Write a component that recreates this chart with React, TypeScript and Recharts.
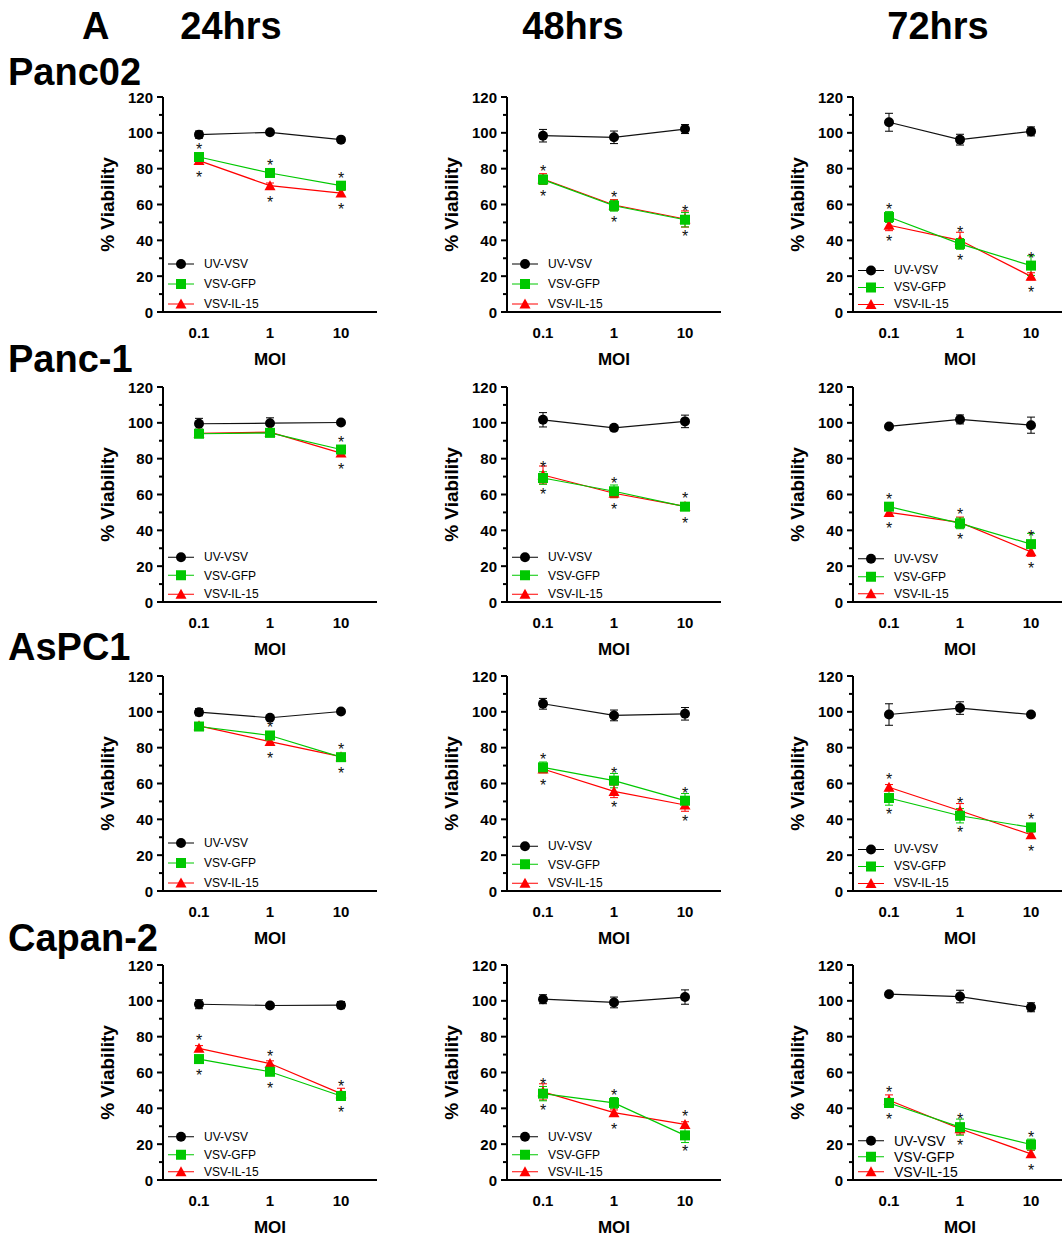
import { ErrorBar, Label, LabelList, Legend, Line, LineChart, XAxis, YAxis } from 'recharts'

const FONT = 'Arial, "Liberation Sans", sans-serif'

const moi = ['0.1', '1', '10']
const timepoints = ['24hrs', '48hrs', '72hrs']
const cellLines = ['Panc02', 'Panc-1', 'AsPC1', 'Capan-2']
const yTicks = [0, 10, 20, 30, 40, 50, 60, 70, 80, 90, 100, 110, 120]

// % viability, [cell line][timepoint][MOI]
const uvVsv = [
  [[99, 100.3, 96.2], [98.4, 97.5, 102.1], [105.9, 96.2, 100.8]],
  [[99.5, 99.8, 100.2], [101.7, 97.2, 100.8], [98, 101.9, 98.7]],
  [[99.8, 96.7, 100.2], [104.5, 98, 98.9], [98.5, 102.1, 98.5]],
  [[98.1, 97.4, 97.6], [100.9, 99.1, 102.1], [103.7, 102.4, 96.4]],
]
const uvVsvSd = [
  [[2, 1, 1], [3.5, 3.5, 2.5], [5, 3, 2.5]],
  [[3, 3, 1], [4, 1, 3.5], [1, 2.5, 4.5]],
  [[2, 1, 1], [3, 3, 3.5], [6, 3.5, 1]],
  [[2.5, 1, 2], [2.5, 3, 4], [1, 3.5, 2.5]],
]
const vsvGfp = [
  [[86.5, 77.6, 70.5], [73.9, 59.3, 51.5], [53, 38, 25.9]],
  [[93.9, 94.4, 85.1], [69.2, 61.8, 53.2], [53.2, 43.9, 32.3]],
  [[91.8, 86.8, 74.7], [69, 61.6, 50.4], [51.9, 42, 35.5]],
  [[67.5, 60.4, 46.9], [48.2, 43, 24.9], [43, 29.5, 19.8]],
]
const vsvGfpSd = [
  [[1.5, 1.5, 1.5], [2.5, 3, 4], [3, 3, 5.5]],
  [[1.5, 1, 1.5], [3.5, 3.5, 2], [2, 3, 6]],
  [[1.5, 2, 1.5], [3, 4, 4], [4, 4, 2]],
  [[1.5, 1.5, 2.5], [4, 3, 4], [2.5, 4.5, 3]],
]
const vsvIl15 = [
  [[84.5, 70.5, 66.4], [74.2, 59.7, 51.9], [48.4, 40, 19.9]],
  [[94.2, 94.8, 83.1], [70.9, 60.7, 53.4], [50, 44.4, 28]],
  [[92.2, 83.4, 75], [68.1, 55.6, 48], [57.9, 44.8, 31.4]],
  [[73.5, 65, 48.2], [49.2, 37.6, 31], [44.5, 28.6, 14.6]],
]
const vsvIl15Sd = [
  [[1.5, 1.5, 1.5], [3, 3, 4.5], [3, 4.5, 2]],
  [[1, 1, 1.5], [5, 2.5, 2], [2, 3, 2.5]],
  [[1, 1.5, 1], [2, 3.5, 3.5], [1.5, 4, 1.5]],
  [[1.5, 1.5, 3], [4.5, 1.5, 1.5], [3, 3, 2]],
]
// asterisks vs UV-VSV at each MOI
const significant = [
  [[1, 1, 1], [1, 1, 1], [1, 1, 1]],
  [[0, 0, 1], [1, 1, 1], [1, 1, 1]],
  [[0, 1, 1], [1, 1, 1], [1, 1, 1]],
  [[1, 1, 1], [1, 1, 1], [1, 1, 1]],
]

const legendItems = [
  { name: 'UV-VSV', color: '#000', shape: 'circle' },
  { name: 'VSV-GFP', color: '#00c800', shape: 'square' },
  { name: 'VSV-IL-15', color: '#ff0000', shape: 'triangle' },
]

// layout
const axisX = [163, 507, 853]
const plotTop = [97, 387, 676, 965]
const legendGap = [[20, 20, 17], [18.5, 18.5, 17.5], [20, 18.5, 17], [17.5, 17.5, 15.5]]
const legendFont = [[12, 12, 12], [12, 12, 12], [12, 12, 12], [12, 12, 14]]

function Marker({ shape, color, cx, cy }: any) {
  if (shape === 'circle') return <circle cx={cx} cy={cy} r={5} fill={color} />
  if (shape === 'square') return <rect x={cx - 5} y={cy - 5} width={10} height={10} fill={color} />
  return <polygon points={`${cx},${cy - 5.5} ${cx + 5.5},${cy + 4.5} ${cx - 5.5},${cy + 4.5}`} fill={color} />
}

const dotFor = (shape: string, color: string) => (p: any) => (
  <g key={`${shape}-${p.index}`}>
    <Marker shape={shape} color={color} cx={p.cx} cy={p.cy} />
  </g>
)

const YTick = ({ x, y, payload }: any) => {
  const major = payload.value % 20 === 0
  return (
    <g>
      <line x1={x - (major ? 6 : 4)} x2={x} y1={y} y2={y} stroke="#000" strokeWidth={2} />
      {major && (
        <text x={x - 10} y={y + 5.5} textAnchor="end" fontSize={15} fontWeight="bold" fontFamily={FONT} fill="#000">
          {payload.value}
        </text>
      )}
    </g>
  )
}

const XTick = ({ x, y, payload }: any) => (
  <text x={x} y={y + 26} textAnchor="middle" fontSize={15} fontWeight="bold" fontFamily={FONT} fill="#000">
    {payload.value}
  </text>
)

const ViabilityLabel = ({ viewBox }: any) => {
  const bx = viewBox.x + viewBox.width - 49
  const cy = viewBox.y + viewBox.height / 2
  return (
    <text x={bx} y={cy} transform={`rotate(-90 ${bx} ${cy})`} textAnchor="middle" fontSize={19} fontWeight="bold" fontFamily={FONT} fill="#000">
      % Viability
    </text>
  )
}

const MoiLabel = ({ viewBox }: any) => (
  <text x={viewBox.x + viewBox.width / 2} y={viewBox.y + 53} textAnchor="middle" fontSize={17} fontWeight="bold" fontFamily={FONT} fill="#000">
    MOI
  </text>
)

const starContent = (sig: number[], own: number[], other: number[], wins: boolean) => (p: any) => {
  const i = p.index
  if (!sig[i]) return null
  const above = wins ? own[i] >= other[i] : own[i] > other[i]
  const cy = above ? p.y - 11 : p.y + 13
  return (
    <text key={`star-${i}`} x={p.x} y={cy + 9} textAnchor="middle" fontSize={16} fontFamily={FONT} fill="#111">
      *
    </text>
  )
}

function PanelLegend({ gap, fontSize }: { gap: number; fontSize: number }) {
  return (
    <div style={{ fontFamily: FONT }}>
      {legendItems.map((it) => (
        <div key={it.name} style={{ display: 'flex', alignItems: 'center', height: gap }}>
          <svg width={28} height={gap} style={{ display: 'block' }}>
            <line x1={0} x2={26} y1={gap / 2} y2={gap / 2} stroke={it.color} strokeWidth={1} />
            <Marker shape={it.shape} color={it.color} cx={13} cy={gap / 2} />
          </svg>
          <span style={{ marginLeft: 8, fontSize, color: '#000', whiteSpace: 'nowrap' }}>{it.name}</span>
        </div>
      ))}
    </div>
  )
}

function Panel({ row, col }: { row: number; col: number }) {
  const uv = uvVsv[row][col]
  const gfp = vsvGfp[row][col]
  const il = vsvIl15[row][col]
  const sig = significant[row][col]
  const data = moi.map((m, i) => ({
    moi: m,
    uv: uv[i],
    uvSd: uvVsvSd[row][col][i],
    gfp: gfp[i],
    gfpSd: vsvGfpSd[row][col][i],
    il15: il[i],
    il15Sd: vsvIl15Sd[row][col][i],
  }))
  const gap = legendGap[row][col]
  const legendTop = 15 + 215 - 8 - 2.5 * gap
  return (
    <div style={{ position: 'absolute', left: axisX[col] - 75, top: plotTop[row] - 15 }}>
      <LineChart width={294} height={290} data={data} margin={{ top: 15, right: 5, bottom: 0, left: 15 }}>
        <XAxis
          dataKey="moi"
          padding={{ left: 36, right: 36 }}
          axisLine={{ stroke: '#000', strokeWidth: 2 }}
          tickLine={false}
          tickSize={0}
          tickMargin={0}
          height={60}
          interval={0}
          tick={XTick}
        >
          <Label content={MoiLabel} />
        </XAxis>
        <YAxis
          domain={[0, 120]}
          ticks={yTicks}
          interval={0}
          width={60}
          axisLine={{ stroke: '#000', strokeWidth: 2 }}
          tickLine={false}
          tickSize={0}
          tickMargin={0}
          tick={YTick}
        >
          <Label content={ViabilityLabel} />
        </YAxis>
        <Legend
          layout="vertical"
          align="center"
          verticalAlign="middle"
          wrapperStyle={{ left: 80, top: legendTop, width: 120 }}
          content={() => <PanelLegend gap={gap} fontSize={legendFont[row][col]} />}
        />
        <Line dataKey="uv" stroke="#111" strokeWidth={1.2} dot={dotFor('circle', '#000')} activeDot={false} isAnimationActive={false}>
          <ErrorBar dataKey="uvSd" width={4} strokeWidth={1} stroke="#000" direction="y" isAnimationActive={false} />
        </Line>
        <Line dataKey="il15" stroke="#ff0000" strokeWidth={1.2} dot={dotFor('triangle', '#ff0000')} activeDot={false} isAnimationActive={false}>
          <ErrorBar dataKey="il15Sd" width={4} strokeWidth={1} stroke="#ff0000" direction="y" isAnimationActive={false} />
          <LabelList dataKey="il15" content={starContent(sig, il, gfp, false)} />
        </Line>
        <Line dataKey="gfp" stroke="#00c800" strokeWidth={1.2} dot={dotFor('square', '#00c800')} activeDot={false} isAnimationActive={false}>
          <ErrorBar dataKey="gfpSd" width={4} strokeWidth={1} stroke="#00c800" direction="y" isAnimationActive={false} />
          <LabelList dataKey="gfp" content={starContent(sig, gfp, il, true)} />
        </Line>
      </LineChart>
    </div>
  )
}

const headerX = [231, 573, 938]
const rowLabelBaseline = [85, 372, 660, 951]

export default function App() {
  return (
    <div style={{ position: 'absolute', left: 0, top: 0, width: 1062, height: 1237, overflow: 'hidden', background: '#fff' }}>
      <svg width={1062} height={1237} style={{ position: 'absolute', left: 0, top: 0 }}>
        <text x={82} y={39} fontSize={38} fontWeight="bold" fontFamily={FONT} fill="#000">A</text>
        {timepoints.map((t, i) => (
          <text key={t} x={headerX[i]} y={39} textAnchor="middle" fontSize={38} fontWeight="bold" fontFamily={FONT} fill="#000">
            {t}
          </text>
        ))}
        {cellLines.map((c, i) => (
          <text key={c} x={8} y={rowLabelBaseline[i]} fontSize={38} fontWeight="bold" fontFamily={FONT} fill="#000">
            {c}
          </text>
        ))}
      </svg>
      {cellLines.map((c, r) => timepoints.map((t, k) => <Panel key={`${c}-${t}`} row={r} col={k} />))}
    </div>
  )
}
